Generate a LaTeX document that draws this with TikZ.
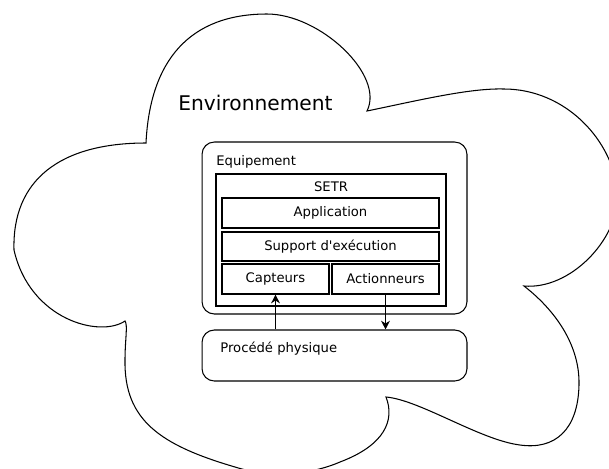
\documentclass[tikz,border=0pt]{standalone}
\usepackage{fontspec}
\setmainfont{DejaVu Sans}[Ligatures=TeXOff]
\usetikzlibrary{arrows.meta}

\begin{document}
\begin{tikzpicture}[x=0.02cm,y=-0.02cm,
    txt/.style={font=\fontsize{7.5}{9}\selectfont,inner sep=0pt},
    box/.style={draw,rectangle,line width=0.6pt,inner sep=0pt},
    roundbox/.style={box,rounded corners=7pt}]
  \clip (0,0) rectangle (609,468);
  % environment cloud
  \draw[line width=0.6pt] (146,143) .. controls (150,60) and (190,14) .. (267,14)
    .. controls (320,14) and (385,75) .. (367,111)
    .. controls (420,100) and (470,88) .. (504,89)
    .. controls (565,89) and (614,140) .. (618,195)
    .. controls (618,240) and (570,290) .. (524,286)
    .. controls (555,310) and (580,345) .. (579,385)
    .. controls (578,430) and (555,450) .. (520,445)
    .. controls (480,440) and (420,400) .. (386,397)
    .. controls (395,420) and (385,445) .. (340,462)
    .. controls (310,475) and (270,478) .. (235,467)
    .. controls (160,445) and (124,420) .. (125,360)
    .. controls (125,340) and (128,325) .. (125,321)
    .. controls (100,338) and (30,320) .. (14,250)
    .. controls (12,180) and (60,143) .. cycle;
  \node[txt,font=\fontsize{11.5}{14}\selectfont,anchor=west] (environnement) at (178,103) {Environnement};

  \begin{scope}[every node/.style={txt}]
    \node[roundbox,minimum width=5.30cm,minimum height=3.44cm] (equipement) at (334.5,228) {};
    \node[anchor=west] (equiplabel) at (216,162) {Equipement};
    \node[box,line width=1.4pt,minimum width=4.60cm,minimum height=2.64cm] (setr) at (331,240) {};
    \node (setrlabel) at (331,187) {SETR};
    \node[box,minimum width=4.34cm,minimum height=0.60cm] (application) at (330.5,213) {Application};
    \node[box,minimum width=4.34cm,minimum height=0.58cm] (support) at (330.5,246.5) {Support d'exécution};
    \node[box,minimum width=2.14cm,minimum height=0.60cm] (capteurs) at (275.5,279) {Capteurs};
    \node[box,minimum width=2.14cm,minimum height=0.60cm] (actionneurs) at (385.5,279) {Actionneurs};
    \node[roundbox,minimum width=5.30cm,minimum height=1.02cm] (procede) at (334.5,355.5) {};
    \node[anchor=west] (procedelabel) at (220,349) {Procédé physique};
  \end{scope}

  \begin{scope}[line width=0.6pt,>={Stealth[length=5pt,width=5pt]}]
    \draw[->] (capteurs.south |- procede.north) -- (capteurs.south);
    \draw[->] (actionneurs.south) -- (actionneurs.south |- procede.north);
  \end{scope}
\end{tikzpicture}
\end{document}
